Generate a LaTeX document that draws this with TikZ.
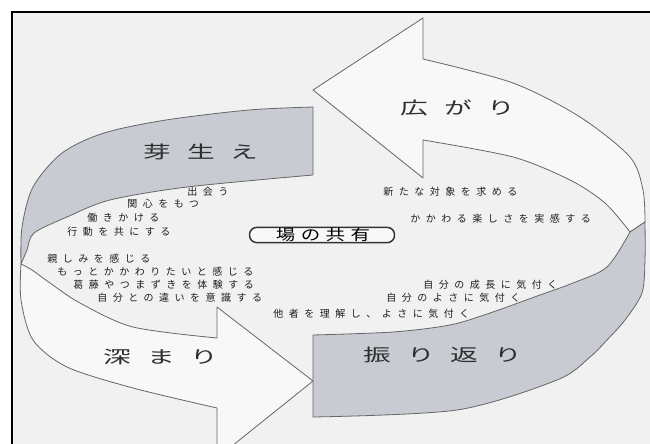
\documentclass[tikz,border=0pt]{standalone}
\usepackage{fontspec}
\newfontfamily\jpsp[LetterSpace=55]{Noto Sans CJK JP}
\newfontfamily\jpbig[LetterSpace=58]{Noto Sans CJK JP}
\newfontfamily\jpmid[LetterSpace=28]{Noto Sans CJK JP}
\newcommand\mysmallfont{\jpsp\fontsize{7.5pt}{9pt}\selectfont}
\newcommand\mybigfont{\jpbig\fontsize{13pt}{15pt}\selectfont}
\newcommand\mymidfont{\jpmid\fontsize{11.25pt}{13pt}\selectfont}
\newcommand\wide[1]{\scalebox{1.6}[1]{#1}}
\definecolor{bgc}{HTML}{F1F1F1}
\definecolor{arrowfill}{HTML}{F8F8F8}
\definecolor{bandc}{HTML}{C9CBD3}
\definecolor{linec}{HTML}{666666}
\definecolor{txtc}{HTML}{1E1E1E}
\definecolor{bigc}{HTML}{2E2E2E}
\tikzset{
  band/.style={fill=bandc, draw=linec, line width=0.6pt, line join=round},
  arrowshape/.style={fill=arrowfill, draw=linec, line width=0.6pt, line join=round},
  smalltext/.style={anchor=west, inner sep=0pt, text=txtc, font=\mysmallfont},
  bigtext/.style={anchor=west, inner sep=0pt, text=bigc, font=\mybigfont},
  sharebox/.style={draw=black!80, line width=1.1pt, fill=arrowfill, rounded corners=5.5pt, minimum width=108.75pt, minimum height=11.5pt, inner sep=0pt},
}
\begin{document}
\begin{tikzpicture}[x=0.75pt,y=-0.75pt]
\useasboundingbox (0,0) rectangle (650,443);
\clip (0,0) rectangle (650,443);
\fill[white] (0,0) rectangle (650,443);
\fill[bgc] (12,12) rectangle (660,460);
\draw[black, line width=1.1pt] (12,470) -- (12,12) -- (670,12);

% 芽生え band (grey)
\filldraw[band] plot[smooth] coordinates {(313,107) (249,110) (166,120) (104,133) (62,153) (33,187) (22,227) (21,264)}
  -- plot[smooth] coordinates {(21,264) (27,250) (34,233) (67,217) (110,200) (187,187) (313,175)} -- cycle;

% 深まり arrow
\filldraw[arrowshape] plot[smooth] coordinates {(21,264) (21,300) (33,340) (67,367) (133,388) (217,408)}
  -- (217,458) -- (313,381) -- (217,307) -- (217,338)
  -- plot[smooth] coordinates {(217,338) (133,327) (80,303) (50,283) (32,270) (21,264)} -- cycle;

% 広がり arrow
\filldraw[arrowshape] (313,90) -- (423,18) -- (423,59)
  -- plot[smooth] coordinates {(423,59) (513,83) (580,117) (630,157) (643,190) (645,222)}
  -- (630,232)
  -- plot[smooth] coordinates {(630,232) (605,203) (570,180) (513,157) (423,140)}
  -- (423,178) -- cycle;

% 振り返り band (grey)
\filldraw[band] plot[smooth] coordinates {(313,335) (393,332) (450,325) (490,313) (540,295) (573,283) (607,267) (630,232)}
  -- (645,222)
  -- plot[smooth] coordinates {(645,222) (645,260) (642,293) (625,320) (607,340) (590,357) (557,380) (457,410) (313,417)} -- cycle;

% big labels
\node[bigtext] (mebae) at (143,152) {\wide{芽生え}};
\node[bigtext] (hirogari) at (400,108) {\wide{広がり}};
\node[bigtext] (fukamari) at (103,357) {\wide{深まり}};
\node[bigtext] (furikaeri) at (363,355) {\wide{振り返り}};

% centre
\node[sharebox] (box) at (322,235) {};
\node[inner sep=0pt, text=black, font=\mymidfont] (ba) at (323,235) {\scalebox{1.3}[1]{場の共有}};

% small texts, upper left
\node[smalltext] (t1) at (187,192) {出会う};
\node[smalltext] (t2) at (127,204) {関心をもつ};
\node[smalltext] (t3) at (87,218) {働きかける};
\node[smalltext] (t4) at (67,232) {行動を共にする};
% lower left
\node[smalltext] (t5) at (47,259) {親しみを感じる};
\node[smalltext] (t6) at (57,272) {もっとかかわりたいと感じる};
\node[smalltext] (t7) at (73,285) {葛藤やつまずきを体験する};
\node[smalltext] (t8) at (97,298) {自分との違いを意識する};
% upper right
\node[smalltext] (t9) at (383,192) {新たな対象を求める};
\node[smalltext] (t10) at (410,219) {かかわる楽しさを実感する};
% lower right
\node[smalltext] (t11) at (423,285) {自分の成長に気付く};
\node[smalltext] (t12) at (386,298) {自分のよさに気付く};
\node[smalltext] (t13) at (273,314) {他者を理解し、よさに気付く};
\end{tikzpicture}
\end{document}
